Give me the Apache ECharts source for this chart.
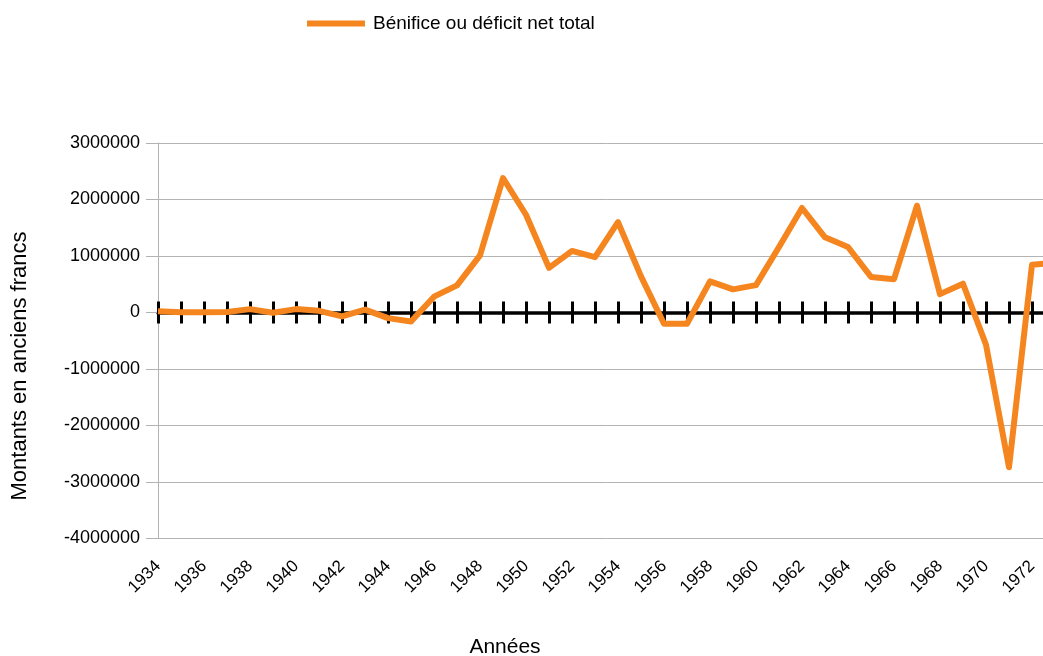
<!DOCTYPE html>
<html lang="fr">
<head>
<meta charset="utf-8">
<title>Bénifice ou déficit net total</title>
<script src="https://cdn.jsdelivr.net/npm/echarts@6.0.0/dist/echarts.min.js"></script>
<style>
  html, body { margin: 0; padding: 0; background: #fff; overflow: hidden; }
  /* the plot runs past the right edge of the window, like the original export */
  #chart { width: 1100px; height: 656px; }
</style>
</head>
<body>
<div id="chart"></div>
<script>
const years = ['1934', '1935', '1936', '1937', '1938', '1939', '1940', '1941', '1942', '1943',
  '1944', '1945', '1946', '1947', '1948', '1949', '1950', '1951', '1952', '1953',
  '1954', '1955', '1956', '1957', '1958', '1959', '1960', '1961', '1962', '1963',
  '1964', '1965', '1966', '1967', '1968', '1969', '1970', '1971', '1972', '1973'];
const netTotal = [20000, 5000, 5000, 10000, 60000, -5000, 60000, 30000, -70000, 50000,
  -100000, -160000, 280000, 480000, 1010000, 2380000, 1730000, 790000, 1090000, 980000,
  1600000, 640000, -200000, -200000, 550000, 410000, 485000, 1160000, 1850000, 1330000,
  1160000, 630000, 590000, 1890000, 325000, 510000, -570000, -2740000, 845000, 880000];
const yMin = -4000000;
const yMax = 3000000;
const yStep = 1000000;

const font = '"Liberation Sans", Arial, sans-serif';
const orange = '#f5861f';
const grey = '#b3b3b3';

const chart = echarts.init(document.getElementById('chart'));

// zero line with ticks going both ways: two axes stuck on y = 0
function zeroAxis(position, withLine) {
  return {
    type: 'category',
    data: years,
    boundaryGap: false,
    position: position,
    axisLine: { show: withLine, onZero: true, onZeroAxisIndex: 0, lineStyle: { color: '#000', width: 3.5 } },
    axisTick: { show: true, interval: 0, length: 11, lineStyle: { color: '#000', width: 3 } },
    axisLabel: { show: false },
    splitLine: { show: false }
  };
}

chart.setOption({
  animation: false,
  textStyle: { fontFamily: font },
  legend: {
    left: 302,
    top: 9,
    icon: 'rect',
    itemWidth: 58,
    itemHeight: 6,
    textStyle: { fontFamily: font, fontSize: 19, color: '#000', padding: [0, 0, 0, 3] },
    data: ['Bénifice ou déficit net total']
  },
  grid: { left: 158, top: 143, width: 897, bottom: 117.5 },
  xAxis: [
    {
      type: 'category',
      data: years,
      boundaryGap: false,
      position: 'bottom',
      axisLine: { show: false, onZero: false },
      axisTick: { show: false },
      axisLabel: { interval: 1, rotate: 45, margin: 25, fontSize: 17, color: '#000', fontFamily: font },
      splitLine: { show: false }
    },
    zeroAxis('bottom', true),
    zeroAxis('top', false)
  ],
  yAxis: {
    type: 'value',
    min: yMin,
    max: yMax,
    interval: yStep,
    axisLine: { show: true, lineStyle: { color: grey, width: 1 } },
    axisTick: { show: true, length: 12, lineStyle: { color: grey } },
    axisLabel: { margin: 18, fontSize: 18, color: '#000', fontFamily: font, formatter: v => String(v) },
    splitLine: { lineStyle: { color: grey, width: 1 } }
  },
  graphic: [
    {
      type: 'text',
      x: 20,
      y: 366,
      rotation: Math.PI / 2,
      style: { text: 'Montants en anciens francs', fontSize: 22, fontFamily: font, fill: '#000', align: 'center', verticalAlign: 'middle' }
    },
    {
      type: 'text',
      x: 505,
      y: 647,
      style: { text: 'Années', fontSize: 21, fontFamily: font, fill: '#000', align: 'center', verticalAlign: 'middle' }
    }
  ],
  series: [
    {
      name: 'Bénifice ou déficit net total',
      type: 'line',
      xAxisIndex: 0,
      data: netTotal,
      showSymbol: false,
      lineStyle: { color: orange, width: 6, join: 'round' },
      itemStyle: { color: orange },
      z: 5
    }
  ]
});
</script>
</body>
</html>
